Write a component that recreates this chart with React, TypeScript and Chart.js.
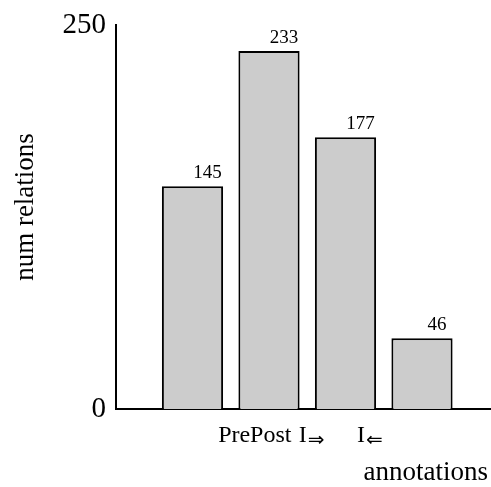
import React, { useEffect, useRef } from "react";
import { Chart, registerables } from "chart.js";

Chart.register(...registerables);

const barPositions = [1, 2, 3, 4];
const values = [145, 233, 177, 46];
const yTicks = [0, 250];
const xTickMain = ["PrePost", "I", "I"];
const xTickSub = ["", "⇒", "⇐"];
const xTickStart = [1.335, 2.39, 3.15];
const xTitle = "annotations";
const yTitle = "num relations";

const SERIF = "'Liberation Serif', 'DejaVu Serif', serif";

const textPlugin = {
  id: "textPlugin",
  afterDraw(chart: any) {
    const ctx = chart.ctx;
    const area = chart.chartArea;
    const xs = chart.scales.x;
    ctx.save();
    ctx.fillStyle = "#000";

    // value labels
    const meta = chart.getDatasetMeta(0);
    ctx.font = `19px ${SERIF}`;
    ctx.textAlign = "center";
    ctx.textBaseline = "alphabetic";
    meta.data.forEach((bar: any, i: number) => {
      ctx.fillText(String(values[i]), bar.x + 15, bar.y - 8);
    });

    // x tick labels
    ctx.textAlign = "left";
    xTickMain.forEach((lab, i) => {
      const start = xs.getPixelForValue(xTickStart[i]);
      ctx.font = `24px ${SERIF}`;
      const w1 = ctx.measureText(lab).width;
      ctx.fillText(lab, start, area.bottom + 33);
      if (xTickSub[i]) {
        ctx.font = `20px 'DejaVu Sans', sans-serif`;
        ctx.fillText(xTickSub[i], start + w1 + 1, area.bottom + 37);
      }
    });

    // x title
    ctx.font = `27px ${SERIF}`;
    ctx.textAlign = "right";
    ctx.fillText(xTitle, area.right - 2, area.bottom + 71);

    // y title
    ctx.translate(33, (area.top + area.bottom) / 2 - 10);
    ctx.rotate(-Math.PI / 2);
    ctx.textAlign = "center";
    ctx.fillText(yTitle, 0, 0);
    ctx.restore();
  },
};

export default function App() {
  const ref = useRef<HTMLCanvasElement>(null);
  useEffect(() => {
    if (!ref.current) return;
    Chart.defaults.font.family = SERIF;
    const chart = new Chart(ref.current, {
      type: "bar",
      data: {
        datasets: [
          {
            data: barPositions.map((x, i) => ({ x, y: values[i] })),
            backgroundColor: "#cccccc",
            borderColor: "#000000",
            borderWidth: 2,
            barPercentage: 0.8,
            categoryPercentage: 1,
          },
        ],
      },
      options: {
        animation: false,
        responsive: false,
        maintainAspectRatio: false,
        layout: { padding: { top: 25, right: 1, bottom: 78, left: 0 } },
        plugins: {
          legend: { display: false },
          tooltip: { enabled: false },
        },
        scales: {
          x: {
            type: "linear",
            offset: false,
            min: 0,
            max: 374 / 76.5,
            ticks: { display: false },
            grid: { display: false, offset: false },
            border: { display: true, color: "#000", width: 2 },
            afterFit: (s: any) => {
              s.height = 0;
            },
          },
          y: {
            type: "linear",
            min: 0,
            max: 250,
            afterBuildTicks: (s: any) => {
              s.ticks = yTicks.map((v) => ({ value: v }));
            },
            ticks: {
              color: "#000",
              padding: 2,
              font: { size: 29, family: SERIF },
            },
            grid: { display: false },
            border: { display: true, color: "#000", width: 2 },
            afterFit: (s: any) => {
              s.width = 116;
            },
          },
        },
      } as any,
      plugins: [textPlugin],
    });
    return () => chart.destroy();
  }, []);
  return (
    <div style={{ position: "fixed", left: 0, top: 0, width: 491, height: 487, background: "#fff" }}>
      <canvas ref={ref} width={491} height={487} style={{ width: 491, height: 487 }} />
    </div>
  );
}
